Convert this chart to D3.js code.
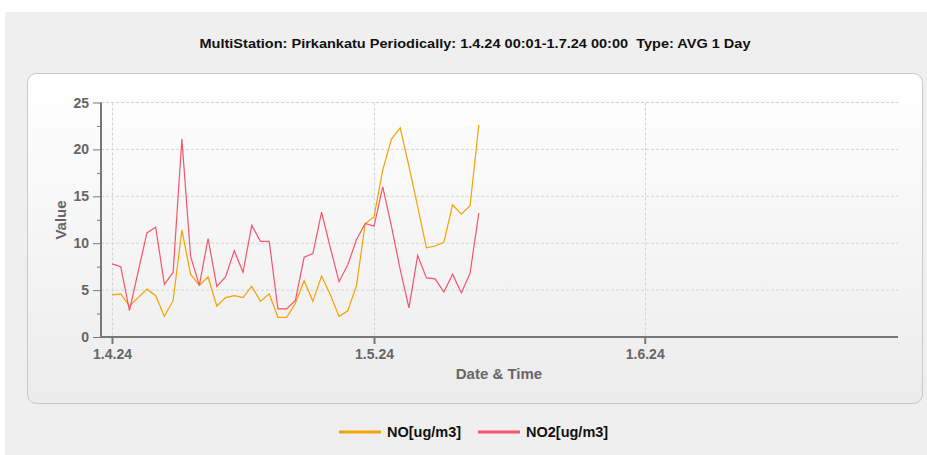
<!DOCTYPE html>
<html>
<head>
<meta charset="utf-8">
<script src="https://cdn.jsdelivr.net/npm/d3@7"></script>
<style>
  body { margin: 0; background: #fff; }
  text { font-family: "Liberation Sans", Arial, sans-serif; }
</style>
</head>
<body>
<div id="chart"></div>
<script>
// daily averages, 1.4.24 -> 13.5.24
var startDate = new Date(2024, 3, 1);
var noValues = [4.5, 4.6, 3.3, 4.2, 5.1, 4.4, 2.2, 3.9, 11.4, 6.7,
                5.5, 6.4, 3.3, 4.2, 4.4, 4.2, 5.4, 3.8, 4.6, 2.1,
                2.1, 3.6, 6.0, 3.8, 6.5, 4.5, 2.2, 2.8, 5.5, 12.1,
                12.8, 17.8, 21.1, 22.3, 18.2, 13.9, 9.5, 9.7, 10.1, 14.1,
                13.1, 14.0, 22.6];
var no2Values = [7.8, 7.5, 2.8, 7.0, 11.1, 11.7, 5.6, 6.9, 21.1, 8.6,
                 5.5, 10.5, 5.4, 6.4, 9.2, 6.9, 11.9, 10.2, 10.2, 3.0,
                 3.0, 3.9, 8.5, 8.9, 13.3, 9.5, 5.9, 7.7, 10.4, 12.1,
                 11.8, 16.0, 11.8, 7.2, 3.1, 8.7, 6.3, 6.2, 4.8, 6.7,
                 4.7, 6.8, 13.2];
var seriesNames = ["NO[ug/m3]", "NO2[ug/m3]"];
var seriesColors = ["#f4a300", "#f6546b"];
var xTicks = [new Date(2024, 3, 1), new Date(2024, 4, 1), new Date(2024, 5, 1)];
var yTicks = [0, 5, 10, 15, 20, 25];
var titleText = "MultiStation: Pirkankatu Periodically: 1.4.24 00:01-1.7.24 00:00  Type: AVG 1 Day";

var width = 927, height = 455;
var svg = d3.select("#chart").append("svg").attr("width", width).attr("height", height);

var defs = svg.append("defs");
var grad = defs.append("linearGradient").attr("id", "panelGrad")
    .attr("x1", 0).attr("y1", 0).attr("x2", 0).attr("y2", 1);
grad.append("stop").attr("offset", "0%").attr("stop-color", "#ffffff");
grad.append("stop").attr("offset", "100%").attr("stop-color", "#ececec");

// page background
svg.append("rect").attr("x", 5).attr("y", 12).attr("width", width - 5).attr("height", height - 12)
    .attr("fill", "#efefef");

svg.append("text")
    .attr("x", 475).attr("y", 48)
    .attr("text-anchor", "middle")
    .attr("font-size", 13.5).attr("font-weight", "bold").attr("fill", "#111")
    .attr("textLength", 551).attr("lengthAdjust", "spacingAndGlyphs")
    .style("white-space", "pre")
    .text(titleText);

// panel
svg.append("rect").attr("x", 27.5).attr("y", 73.5).attr("width", 895).attr("height", 330)
    .attr("rx", 9).attr("ry", 9)
    .attr("fill", "url(#panelGrad)").attr("stroke", "#c8c8c8");

var x = d3.scaleTime()
    .domain([startDate, new Date(2024, 5, 30)])
    .range([112, 898]);
var y = d3.scaleLinear().domain([0, 25]).range([337, 102.5]);
var axisLeft = 101, axisRight = 898;

var grid = svg.append("g").attr("stroke", "#d4d4d4").attr("stroke-dasharray", "3,2");
grid.selectAll("line.h").data(yTicks.slice(1)).enter().append("line")
    .attr("x1", axisLeft).attr("x2", axisRight)
    .attr("y1", function(d) { return y(d); }).attr("y2", function(d) { return y(d); });
grid.selectAll("line.v").data(xTicks).enter().append("line")
    .attr("x1", function(d) { return Math.round(x(d)) + 0.5; })
    .attr("x2", function(d) { return Math.round(x(d)) + 0.5; })
    .attr("y1", y(25)).attr("y2", y(0));

// y axis
var yAxis = d3.axisLeft(y).tickValues(d3.range(0, 25.1, 2.5)).tickSize(4).tickFormat("");
var gy = svg.append("g").attr("transform", "translate(" + axisLeft + ",0)").call(yAxis);
gy.selectAll("line").attr("stroke", "#777");
gy.selectAll(".tick").filter(function(d) { return d % 5 === 0; }).select("line").attr("x2", -8);
gy.select(".domain").remove();
svg.selectAll("text.ylab").data(yTicks).enter().append("text")
    .attr("class", "ylab")
    .attr("x", 89).attr("y", function(d) { return y(d) + 5; })
    .attr("text-anchor", "end")
    .attr("font-size", 14).attr("font-weight", "bold").attr("fill", "#666")
    .text(function(d) { return d; });

// x axis
var xAxis = d3.axisBottom(x).tickValues(xTicks).tickSize(7)
    .tickFormat(function(d) { return d.getDate() + "." + (d.getMonth() + 1) + "." + String(d.getFullYear()).slice(2); });
var gx = svg.append("g").attr("transform", "translate(0," + y(0) + ")").call(xAxis);
gx.select(".domain").remove();
gx.selectAll("line").attr("stroke", "#777").attr("stroke-width", 2);
gx.selectAll("text").attr("font-size", 14).attr("font-weight", "bold").attr("fill", "#666")
    .attr("font-family", "Liberation Sans, Arial, sans-serif").attr("dy", "0.85em");

svg.append("line").attr("x1", axisLeft).attr("x2", axisRight).attr("y1", y(0)).attr("y2", y(0))
    .attr("stroke", "#777").attr("stroke-width", 2);
svg.append("line").attr("x1", axisLeft).attr("x2", axisLeft).attr("y1", y(25)).attr("y2", y(0) + 1)
    .attr("stroke", "#777").attr("stroke-width", 2);

svg.append("text")
    .attr("transform", "translate(66,220) rotate(-90)")
    .attr("text-anchor", "middle")
    .attr("font-size", 15).attr("font-weight", "bold").attr("fill", "#666")
    .text("Value");
svg.append("text")
    .attr("x", 499).attr("y", 379)
    .attr("text-anchor", "middle")
    .attr("font-size", 15).attr("font-weight", "bold").attr("fill", "#666")
    .text("Date & Time");

// lines
function dayOf(i) { return d3.timeDay.offset(startDate, i); }
var line = d3.line()
    .x(function(d, i) { return x(dayOf(i)); })
    .y(function(d) { return y(d); });

[noValues, no2Values].forEach(function(vals, k) {
    svg.append("path").datum(vals)
        .attr("d", line)
        .attr("fill", "none")
        .attr("stroke", seriesColors[k])
        .attr("stroke-width", 1.2);
});

// legend
var legendX = [339, 478];
var leg = svg.selectAll("g.legend").data(seriesNames).enter().append("g")
    .attr("class", "legend")
    .attr("transform", function(d, i) { return "translate(" + legendX[i] + ",432)"; });
leg.append("line").attr("x1", 0).attr("x2", 42).attr("y1", 0).attr("y2", 0)
    .attr("stroke", function(d, i) { return seriesColors[i]; }).attr("stroke-width", 3);
leg.append("text").attr("x", 48).attr("y", 5)
    .attr("font-size", 14.5).attr("font-weight", "bold").attr("fill", "#111")
    .text(function(d) { return d; });
</script>
</body>
</html>
